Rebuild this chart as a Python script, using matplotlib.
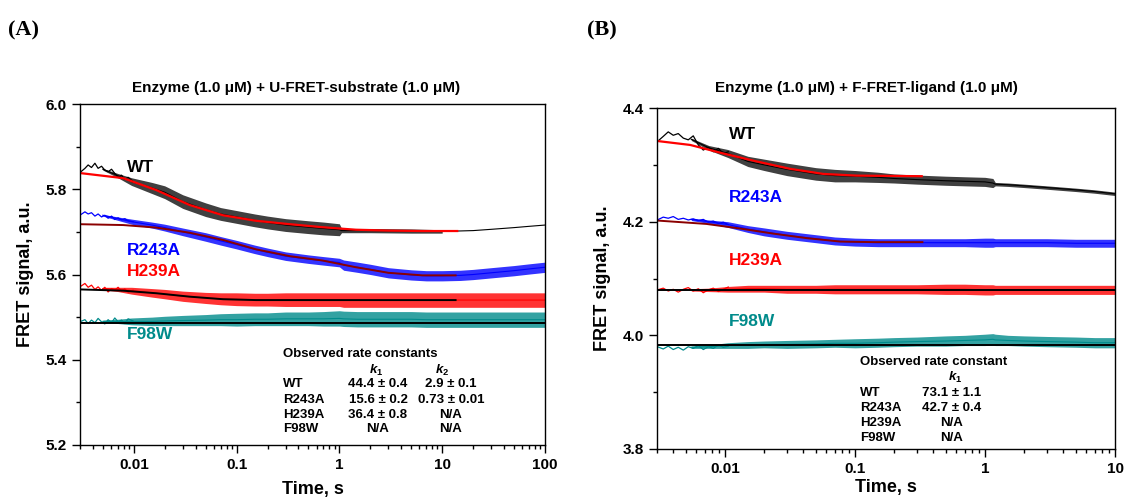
import matplotlib
matplotlib.use("Agg")
import matplotlib.pyplot as plt
from matplotlib.ticker import MultipleLocator, LogLocator, NullFormatter

plt.rcParams['font.family'] = ['Liberation Sans', 'DejaVu Sans']
plt.rcParams['font.weight'] = 'bold'
plt.rcParams['mathtext.fontset'] = 'custom'
plt.rcParams['mathtext.it'] = 'Liberation Sans:italic:bold'
plt.rcParams['mathtext.rm'] = 'Liberation Sans:bold'

# ---------------- Panel A data ----------------
# early sparse (individually visible) points, t < 0.01 s
eA_t = [0.00299, 0.00335, 0.00360, 0.00388, 0.00419, 0.00450, 0.00486, 0.00523, 0.00563,
        0.00608, 0.00654, 0.00704, 0.00760, 0.00818, 0.00881, 0.00985]
wtA_early = [5.839, 5.849, 5.857, 5.851, 5.861, 5.849, 5.854, 5.845, 5.841, 5.847, 5.837,
             5.828, 5.833, 5.823, 5.828, 5.818]
r243A_early = [5.739, 5.747, 5.742, 5.745, 5.737, 5.742, 5.735, 5.739, 5.732, 5.737, 5.729,
               5.733, 5.728, 5.731, 5.726, 5.724]
h239A_early = [5.571, 5.579, 5.570, 5.575, 5.565, 5.571, 5.563, 5.570, 5.559, 5.567, 5.563,
               5.570, 5.561, 5.566, 5.559, 5.563]
f98wA_early = [5.489, 5.494, 5.485, 5.493, 5.487, 5.497, 5.489, 5.484, 5.494, 5.487, 5.498,
               5.489, 5.493, 5.485, 5.496, 5.491]

# dense (noise band) part: centre and half-width
tA = [0.005, 0.007, 0.0095, 0.015, 0.02, 0.03, 0.05, 0.07, 0.1, 0.15, 0.2, 0.3, 0.5, 0.7,
      1.0, 1.1, 1.5, 2, 3, 5, 7, 10, 15, 20, 30, 50, 70, 100]

wtA_t = [0.005, 0.007, 0.0095, 0.015, 0.02, 0.03, 0.05, 0.07, 0.1, 0.15, 0.2, 0.3, 0.5,
         0.7, 1.0, 1.05, 2, 5, 10]
wtA_mid = [5.847, 5.832, 5.818, 5.803, 5.793, 5.771, 5.752, 5.742, 5.735, 5.727, 5.722,
           5.716, 5.711, 5.708, 5.705, 5.703, 5.703, 5.702, 5.701]
wtA_hw = [0.002, 0.005, 0.009, 0.013, 0.015, 0.016, 0.016, 0.015, 0.015, 0.015, 0.015,
          0.015, 0.015, 0.015, 0.014, 0.005, 0.005, 0.005, 0.004]
wtA_tail_t = [10, 20, 30, 50, 70, 100]
wtA_tail = [5.701, 5.703, 5.706, 5.710, 5.713, 5.716]
wtA_fit_t = [0.003, 0.0079, 0.0166, 0.035, 0.0737, 0.155, 0.33, 0.68, 1.45, 3.0, 6.4, 14]
wtA_fit = [5.838, 5.826, 5.798, 5.763, 5.739, 5.726, 5.718, 5.711, 5.705, 5.703, 5.702, 5.702]

r243A_mid = [5.739, 5.731, 5.724, 5.716, 5.710, 5.700, 5.688, 5.679, 5.670, 5.659, 5.652,
             5.643, 5.636, 5.632, 5.628, 5.622, 5.617, 5.612, 5.604, 5.599, 5.597, 5.597,
             5.598, 5.600, 5.604, 5.609, 5.613, 5.617]
r243A_hw = [0.002, 0.004, 0.006, 0.007, 0.008, 0.009, 0.010, 0.010, 0.010, 0.010, 0.010,
            0.010, 0.010, 0.010, 0.010, 0.012, 0.012, 0.012, 0.012, 0.012, 0.012, 0.012,
            0.012, 0.012, 0.012, 0.012, 0.012, 0.012]
r243A_fit_t = [0.003, 0.0079, 0.0166, 0.035, 0.074, 0.155, 0.33, 0.68, 1.45, 3.0, 6.4, 13.5]
r243A_fit = [5.718, 5.716, 5.710, 5.698, 5.681, 5.659, 5.643, 5.633, 5.617, 5.604, 5.598, 5.598]

h239A_mid = [5.567, 5.565, 5.562, 5.557, 5.554, 5.549, 5.545, 5.543, 5.542, 5.541, 5.541,
             5.541, 5.541, 5.541, 5.541, 5.540, 5.540, 5.540, 5.540, 5.540, 5.540, 5.540,
             5.540, 5.540, 5.540, 5.540, 5.540, 5.540]
h239A_hw = [0.003, 0.005, 0.008, 0.010, 0.011, 0.012, 0.013, 0.014, 0.015, 0.015, 0.015,
            0.016, 0.016, 0.016, 0.016, 0.017, 0.017, 0.017, 0.017, 0.017, 0.017, 0.017,
            0.017, 0.017, 0.017, 0.017, 0.017, 0.017]
h239A_fit_t = [0.003, 0.0079, 0.0166, 0.035, 0.074, 0.155, 0.33, 1.0, 13.5]
h239A_fit = [5.565, 5.562, 5.556, 5.548, 5.542, 5.540, 5.540, 5.540, 5.540]

f98wA_mid = [5.490, 5.490, 5.490, 5.490, 5.491, 5.492, 5.493, 5.494, 5.494, 5.495, 5.495,
             5.496, 5.496, 5.496, 5.497, 5.496, 5.495, 5.495, 5.495, 5.495, 5.494, 5.494,
             5.494, 5.494, 5.494, 5.494, 5.494, 5.494]
f98wA_hw = [0.003, 0.005, 0.008, 0.010, 0.011, 0.012, 0.013, 0.014, 0.015, 0.015, 0.015,
            0.016, 0.016, 0.017, 0.018, 0.018, 0.018, 0.018, 0.018, 0.018, 0.018, 0.018,
            0.018, 0.018, 0.018, 0.018, 0.018, 0.018]
f98wA_fit_t = [0.003, 100]
f98wA_fit = [5.487, 5.487]

# ---------------- Panel B data ----------------
eB_t = [0.00302, 0.00335, 0.00366, 0.00400, 0.00437, 0.00478, 0.00522, 0.00570, 0.00624,
        0.00681, 0.00745, 0.00813, 0.00889, 0.00971, 0.0106]
wtB_early = [4.341, 4.350, 4.358, 4.352, 4.355, 4.347, 4.344, 4.351, 4.335, 4.326, 4.331,
             4.323, 4.329, 4.320, 4.323]
r243B_early = [4.203, 4.208, 4.206, 4.209, 4.204, 4.206, 4.203, 4.205, 4.202, 4.204, 4.199,
               4.201, 4.197, 4.199, 4.195]
h239B_early = [4.080, 4.083, 4.078, 4.081, 4.076, 4.081, 4.084, 4.078, 4.082, 4.075, 4.080,
               4.083, 4.077, 4.081, 4.085]
f98wB_early = [3.980, 3.976, 3.981, 3.975, 3.979, 3.974, 3.980, 3.977, 3.982, 3.975, 3.980,
               3.977, 3.983, 3.979, 3.981]

tB = [0.0055, 0.0075, 0.0105, 0.015, 0.02, 0.03, 0.05, 0.07, 0.1, 0.15, 0.2, 0.3, 0.5, 0.7,
      1.0, 1.15, 1.2, 1.5, 2, 3, 5, 7, 10]

wtB_mid = [4.345, 4.330, 4.320, 4.306, 4.300, 4.292, 4.284, 4.281, 4.280, 4.278, 4.276,
           4.274, 4.272, 4.271, 4.270, 4.268, 4.266, 4.265, 4.263, 4.260, 4.256, 4.253, 4.249]
wtB_hw = [0.002, 0.004, 0.007, 0.009, 0.010, 0.011, 0.011, 0.011, 0.010, 0.009, 0.008,
          0.008, 0.008, 0.008, 0.008, 0.008, 0.003, 0.003, 0.003, 0.003, 0.003, 0.003, 0.003]
wtB_fit_t = [0.003, 0.0054, 0.0097, 0.0175, 0.0316, 0.057, 0.103, 0.326]
wtB_fit = [4.342, 4.335, 4.320, 4.306, 4.293, 4.284, 4.281, 4.280]

r243B_mid = [4.204, 4.200, 4.195, 4.187, 4.182, 4.176, 4.170, 4.166, 4.164, 4.163, 4.163,
             4.163, 4.163, 4.163, 4.163, 4.163, 4.163, 4.163, 4.163, 4.163, 4.162, 4.162, 4.162]
r243B_hw = [0.002, 0.003, 0.005, 0.006, 0.007, 0.007, 0.007, 0.007, 0.007, 0.007, 0.007,
            0.007, 0.007, 0.007, 0.008, 0.008, 0.007, 0.007, 0.007, 0.007, 0.007, 0.007, 0.007]
r243B_fit_t = [0.003, 0.0072, 0.013, 0.0235, 0.0426, 0.077, 0.138, 0.33]
r243B_fit = [4.202, 4.196, 4.188, 4.179, 4.171, 4.165, 4.164, 4.164]

h239B_mid = [4.080, 4.080, 4.081, 4.082, 4.082, 4.081, 4.081, 4.081, 4.081, 4.081, 4.081,
             4.081, 4.081, 4.081, 4.080, 4.080, 4.080, 4.080, 4.080, 4.080, 4.080, 4.080, 4.080]
h239B_hw = [0.002, 0.003, 0.005, 0.006, 0.006, 0.007, 0.007, 0.008, 0.008, 0.008, 0.008,
            0.008, 0.009, 0.009, 0.009, 0.009, 0.008, 0.008, 0.008, 0.008, 0.008, 0.008, 0.008]
h239B_fit_t = [0.003, 10]
h239B_fit = [4.080, 4.080]

f98wB_mid = [3.979, 3.980, 3.982, 3.983, 3.984, 3.984, 3.985, 3.986, 3.986, 3.987, 3.988,
             3.989, 3.990, 3.991, 3.992, 3.993, 3.992, 3.991, 3.990, 3.989, 3.988, 3.987, 3.987]
f98wB_hw = [0.002, 0.003, 0.005, 0.006, 0.006, 0.007, 0.007, 0.007, 0.008, 0.008, 0.008,
            0.008, 0.009, 0.009, 0.010, 0.010, 0.010, 0.009, 0.009, 0.009, 0.009, 0.009, 0.009]
f98wB_fit_t = [0.003, 10]
f98wB_fit = [3.983, 3.983]

# ---------------- text ----------------
titleA = "Enzyme (1.0 \u03bcM) + U-FRET-substrate (1.0 \u03bcM)"
titleB = "Enzyme (1.0 \u03bcM) + F-FRET-ligand (1.0 \u03bcM)"
variants = ["WT", "R243A", "H239A", "F98W"]
k1_A = ["44.4 \u00b1 0.4", "15.6 \u00b1 0.2", "36.4 \u00b1 0.8", "N/A"]
k2_A = ["2.9 \u00b1 0.1", "0.73 \u00b1 0.01", "N/A", "N/A"]
k1_B = ["73.1 \u00b1 1.1", "42.7 \u00b1 0.4", "N/A", "N/A"]
xticks_A = [0.01, 0.1, 1, 10, 100]
xticklabels_A = ["0.01", "0.1", "1", "10", "100"]
xticks_B = [0.01, 0.1, 1, 10]
xticklabels_B = ["0.01", "0.1", "1", "10"]

BLACK = "#000000"
BLUE = "#0000FF"
RED = "#FF0000"
TEAL = "#008B8B"
DARKRED = "#8B0000"

fig = plt.figure(figsize=(11.28, 4.99), dpi=100)
axA = fig.add_axes([80/1128, 1-445/499, 465/1128, 341/499])
axB = fig.add_axes([657/1128, 1-449/499, 458/1128, 341/499])


def band(ax, t, mid, hw, color, alpha=0.8):
    lo = [m - h for m, h in zip(mid, hw)]
    hi = [m + h for m, h in zip(mid, hw)]
    ax.fill_between(t, lo, hi, color=color, alpha=alpha, linewidth=0)
    ax.plot(t, mid, color=color, lw=0.8)


def style(ax, ylim, yticks, xt, xtl, xpad):
    ax.set_xscale('log')
    ax.set_xlim(0.003, xt[-1])
    ax.set_ylim(*ylim)
    ax.set_yticks(yticks)
    ax.set_yticklabels([f"{v:.1f}" for v in yticks])
    ax.yaxis.set_minor_locator(MultipleLocator(0.1))
    ax.set_xticks(xt)
    ax.set_xticklabels(xtl)
    ax.xaxis.set_minor_locator(LogLocator(base=10, subs=range(2, 10), numticks=20))
    ax.xaxis.set_minor_formatter(NullFormatter())
    ax.tick_params(which='major', direction='out', length=6, width=1, labelsize=11,
                   top=False, right=False)
    ax.tick_params(which='minor', direction='out', length=3, width=1, top=False, right=False)
    for lab in ax.get_xticklabels() + ax.get_yticklabels():
        lab.set_fontweight('bold')
    for s in ax.spines.values():
        s.set_linewidth(1)
    ax.set_ylabel("FRET signal, a.u.", fontsize=13, fontweight='bold', labelpad=8)
    ax.set_xlabel("Time, s", fontsize=13, fontweight='bold', labelpad=xpad)


# Panel A
axA.plot(eA_t, wtA_early, color=BLACK, lw=0.9)
axA.plot(eA_t, r243A_early, color=BLUE, lw=0.9)
axA.plot(eA_t, h239A_early, color=RED, lw=0.9)
axA.plot(eA_t, f98wA_early, color=TEAL, lw=0.9)
band(axA, wtA_t, wtA_mid, wtA_hw, BLACK, 0.75)
axA.plot(wtA_tail_t, wtA_tail, color=BLACK, lw=0.8)
band(axA, tA, r243A_mid, r243A_hw, BLUE)
band(axA, tA, h239A_mid, h239A_hw, RED)
band(axA, tA, f98wA_mid, f98wA_hw, TEAL)
axA.plot(wtA_fit_t, wtA_fit, color=RED, lw=1.6)
axA.plot(r243A_fit_t, r243A_fit, color=DARKRED, lw=1.4)
axA.plot(h239A_fit_t, h239A_fit, color=BLACK, lw=1.4)
axA.plot(f98wA_fit_t, f98wA_fit, color=BLACK, lw=1.4)
style(axA, (5.2, 6.0), [5.2, 5.4, 5.6, 5.8, 6.0], xticks_A, xticklabels_A, 6)

labA_y = [5.852, 5.656, 5.607, 5.460]
for name, y, c in zip(variants, labA_y, [BLACK, BLUE, RED, TEAL]):
    axA.text(0.0085, y, name, color=c, fontsize=12.5, fontweight='bold', va='center', ha='left')

# Panel B
axB.plot(eB_t, wtB_early, color=BLACK, lw=0.9)
axB.plot(eB_t, r243B_early, color=BLUE, lw=0.9)
axB.plot(eB_t, h239B_early, color=RED, lw=0.9)
axB.plot(eB_t, f98wB_early, color=TEAL, lw=0.9)
band(axB, tB, wtB_mid, wtB_hw, BLACK, 0.75)
band(axB, tB, r243B_mid, r243B_hw, BLUE)
band(axB, tB, h239B_mid, h239B_hw, RED)
band(axB, tB, f98wB_mid, f98wB_hw, TEAL)
axB.plot(wtB_fit_t, wtB_fit, color=RED, lw=1.6)
axB.plot(r243B_fit_t, r243B_fit, color=DARKRED, lw=1.4)
axB.plot(h239B_fit_t, h239B_fit, color=BLACK, lw=1.4)
axB.plot(f98wB_fit_t, f98wB_fit, color=BLACK, lw=1.4)
style(axB, (3.8, 4.4), [3.8, 4.0, 4.2, 4.4], xticks_B, xticklabels_B, 2)

labB_y = [4.354, 4.243, 4.132, 4.024]
for name, y, c in zip(variants, labB_y, [BLACK, BLUE, RED, TEAL]):
    axB.text(0.0108, y, name, color=c, fontsize=12.5, fontweight='bold', va='center', ha='left')

# Titles and panel letters
fig.text(296/1128, 1-88/499, titleA, ha='center', va='center', fontsize=11, fontweight='bold')
fig.text(866/1128, 1-88/499, titleB, ha='center', va='center', fontsize=11, fontweight='bold')
fig.text(8/1128, 1-30/499, "(A)", ha='left', va='center', fontsize=16, fontweight='bold',
         family=['Liberation Serif', 'DejaVu Serif'])
fig.text(587/1128, 1-30/499, "(B)", ha='left', va='center', fontsize=16, fontweight='bold',
         family=['Liberation Serif', 'DejaVu Serif'])


def ftxt(px, py, s, ha='left', size=9.5):
    fig.text(px/1128, 1-py/499, s, ha=ha, va='center', fontsize=size, fontweight='bold')


ftxt(283, 354, "Observed rate constants")
ftxt(376, 370, r"$k_1$", ha='center')
ftxt(442, 370, r"$k_2$", ha='center')
rowsA = [384, 400, 415, 429]
for name, k1, k2, y in zip(variants, k1_A, k2_A, rowsA):
    ftxt(283, y, name)
    ftxt(378, y, k1, ha='center')
    ftxt(451, y, k2, ha='center')

ftxt(860, 362, "Observed rate constant")
ftxt(955, 377, r"$k_1$", ha='center')
rowsB = [393, 408, 423, 438]
for name, k1, y in zip(variants, k1_B, rowsB):
    ftxt(860, y, name)
    ftxt(952, y, k1, ha='center')

fig.savefig("out.png", dpi=100)
